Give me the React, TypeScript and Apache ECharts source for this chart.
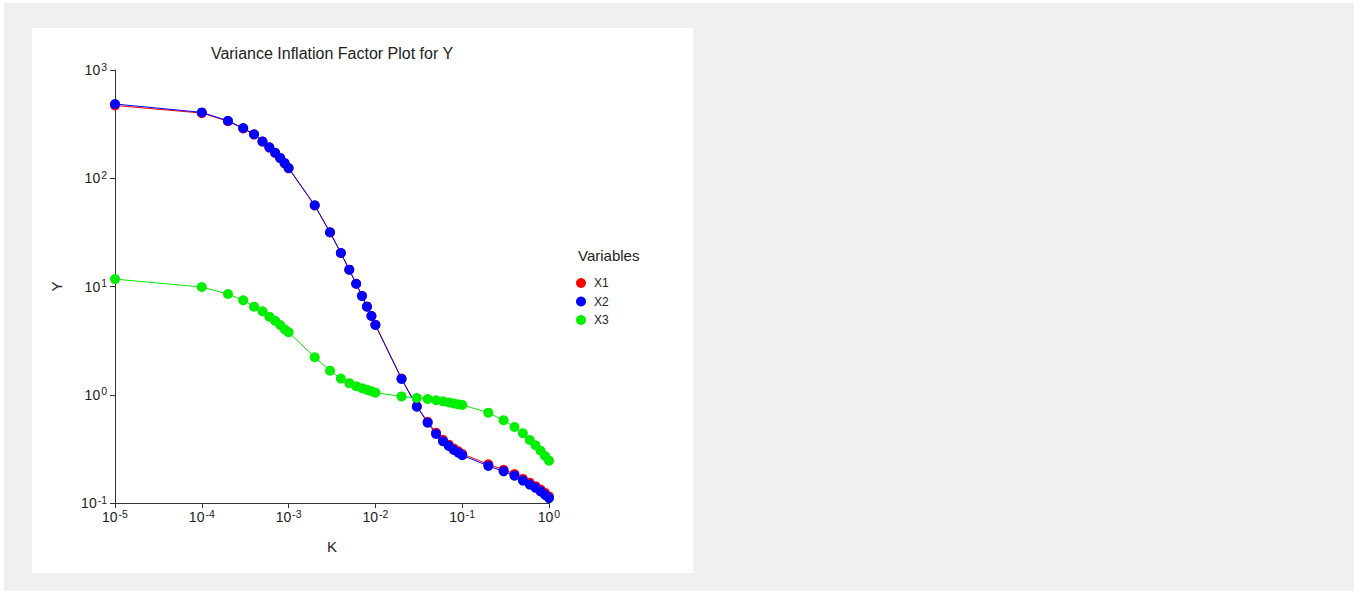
import React, { useEffect, useRef } from "react";
import * as echarts from "echarts";

const kValues = [
  0.00001,
  0.0001, 0.0002, 0.0003, 0.0004, 0.0005, 0.0006, 0.0007, 0.0008, 0.0009, 0.001,
  0.002, 0.003, 0.004, 0.005, 0.006, 0.007, 0.008, 0.009, 0.01,
  0.02, 0.03, 0.04, 0.05, 0.06, 0.07, 0.08, 0.09, 0.1,
  0.2, 0.3, 0.4, 0.5, 0.6, 0.7, 0.8, 0.9, 1.0,
];

const x1Values = [
  470, 400, 336, 288, 253, 218, 192, 171, 153, 137, 123.5,
  56.0, 31.6, 20.4, 14.3, 10.6, 8.2, 6.55, 5.37, 4.44,
  1.41, 0.785, 0.562, 0.445, 0.383, 0.346, 0.318, 0.300, 0.284,
  0.228, 0.203, 0.185, 0.167, 0.154, 0.143, 0.133, 0.124, 0.115,
];

const x2Values = [
  485, 406, 340, 291, 255, 219, 193, 172, 154, 138, 124.4,
  56.3, 31.7, 20.4, 14.3, 10.6, 8.17, 6.51, 5.34, 4.41,
  1.40, 0.776, 0.552, 0.434, 0.372, 0.336, 0.309, 0.292, 0.276,
  0.220, 0.196, 0.179, 0.161, 0.148, 0.138, 0.128, 0.119, 0.111,
];

const x3Values = [
  11.7, 9.89, 8.52, 7.46, 6.51, 5.90, 5.26, 4.83, 4.41, 4.02, 3.78,
  2.22, 1.67, 1.41, 1.28, 1.20, 1.15, 1.11, 1.08, 1.045,
  0.965, 0.933, 0.914, 0.889, 0.869, 0.85, 0.83, 0.815, 0.805,
  0.683, 0.581, 0.504, 0.441, 0.382, 0.341, 0.304, 0.272, 0.246,
];

const seriesNames = ["X1", "X2", "X3"];
const seriesColors = ["#ff0000", "#0000ff", "#00ee00"];
const seriesValues = [x1Values, x2Values, x3Values];

const FONT = 'Arial, "Liberation Sans", sans-serif';

const powLabel = (v: number) => {
  const e = Math.round(Math.log10(v));
  return `{b|10}{e|${e}}`;
};

const richStyle = {
  b: { fontSize: 14, color: "#222", fontFamily: FONT },
  e: { fontSize: 10.5, color: "#222", fontFamily: FONT, verticalAlign: "bottom", padding: [0, 0, 7, 1] },
};

export default function App() {
  const ref = useRef<HTMLDivElement>(null);
  useEffect(() => {
    if (!ref.current) return;
    const chart = echarts.init(ref.current, undefined, { renderer: "svg" });
    chart.setOption({
      animation: false,
      backgroundColor: "#ffffff",
      textStyle: { fontFamily: FONT },
      graphic: [
        { type: "rect", z: -10, silent: true, shape: { x: 4, y: 3, width: 1350, height: 588 }, style: { fill: "#f0f0f0" } },
        { type: "rect", z: -9, silent: true, shape: { x: 32, y: 28, width: 661, height: 545 }, style: { fill: "#ffffff" } },
        { type: "text", left: 578, top: 248, style: { text: "Variables", fontSize: 15, fill: "#222", fontFamily: FONT } },
      ],
      title: {
        text: "Variance Inflation Factor Plot for Y",
        left: 332,
        top: 45,
        padding: 0,
        textAlign: "center",
        textStyle: { fontSize: 16, fontWeight: "normal", color: "#222", fontFamily: FONT },
      },
      legend: {
        orient: "vertical",
        left: 576,
        top: 277,
        padding: 0,
        itemWidth: 10,
        itemHeight: 10,
        itemGap: 6.5,
        icon: "circle",
        data: seriesNames,
        textStyle: { fontSize: 12, color: "#222", fontFamily: FONT, padding: [0, 0, 0, 3] },
      },
      grid: { left: 115, right: 805, top: 70, bottom: 91 },
      xAxis: {
        type: "log",
        logBase: 10,
        min: 0.00001,
        max: 1,
        name: "K",
        nameLocation: "middle",
        nameGap: 36,
        nameTextStyle: { fontSize: 15, color: "#222", fontFamily: FONT },
        axisLine: { lineStyle: { color: "#333" } },
        axisTick: { length: 5, lineStyle: { color: "#333" } },
        minorTick: { show: false },
        splitLine: { show: false },
        axisLabel: { formatter: powLabel, rich: richStyle, margin: 5 },
      },
      yAxis: {
        type: "log",
        logBase: 10,
        min: 0.1,
        max: 1000,
        name: "Y",
        nameLocation: "middle",
        nameGap: 51,
        nameTextStyle: { fontSize: 15, color: "#222", fontFamily: FONT },
        axisLine: { show: true, lineStyle: { color: "#333" } },
        axisTick: { show: true, length: 5, lineStyle: { color: "#333" } },
        splitLine: { show: false },
        axisLabel: { formatter: powLabel, rich: richStyle, margin: 8 },
      },
      series: seriesNames.map((name, i) => ({
        name,
        type: "line",
        data: kValues.map((k, j) => [k, seriesValues[i][j]]),
        symbol: "circle",
        symbolSize: 10,
        lineStyle: { width: 1, color: seriesColors[i] },
        itemStyle: { color: seriesColors[i] },
        z: 2 + i,
      })),
    });
    return () => chart.dispose();
  }, []);
  return <div ref={ref} style={{ position: "fixed", left: 0, top: 0, width: 1354, height: 594 }} />;
}
